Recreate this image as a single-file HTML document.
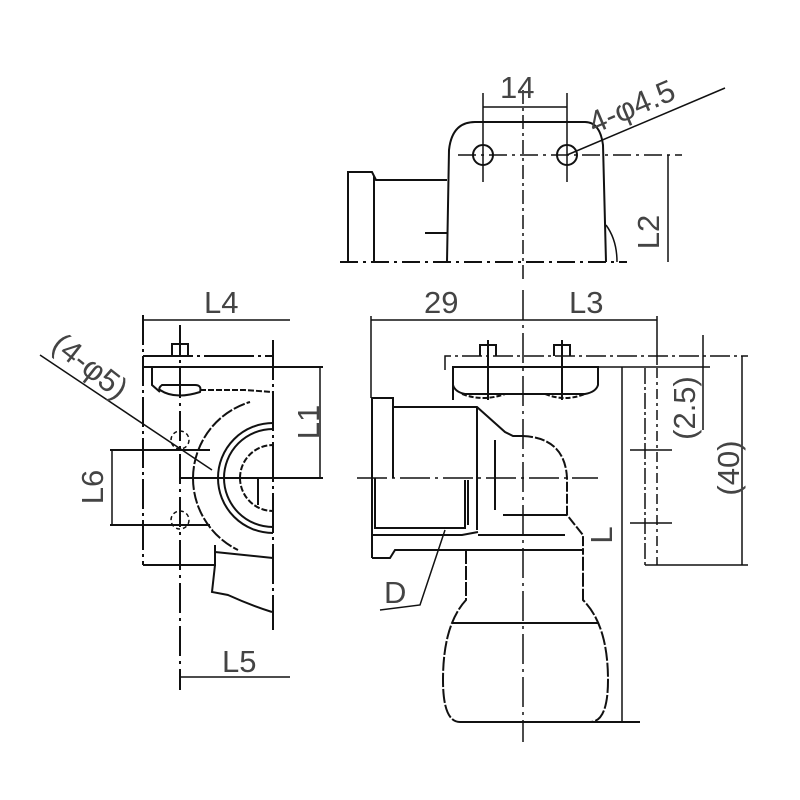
<!DOCTYPE html>
<html><head><meta charset="utf-8"><style>
html,body{margin:0;padding:0;background:#fff}
svg{display:block}
text{font-family:"Liberation Sans",sans-serif;fill:#444}
</style></head><body>
<svg width="800" height="800" viewBox="0 0 800 800" xmlns="http://www.w3.org/2000/svg">
<g fill="none" stroke="#111" stroke-width="2">
<!-- TOP VIEW -->
<line x1="523" y1="90" x2="523" y2="282" stroke-dasharray="14,4,3,4" stroke-width="1.5"/>
<line x1="483" y1="93" x2="483" y2="182" stroke-width="1.5"/>
<line x1="567" y1="93" x2="567" y2="182" stroke-width="1.5"/>
<line x1="483" y1="107" x2="567" y2="107" stroke-width="1.5"/>
<path d="M447 262 L449 150 Q452 122 475 122 L585 122 Q600 122 603 145 L606 262"/>
<circle cx="483" cy="155" r="10"/>
<circle cx="567" cy="155" r="10"/>
<line x1="458" y1="155" x2="682" y2="155" stroke-dasharray="18,5,3,5" stroke-width="1.5"/>
<path d="M348 262 L348 172 L372 172 L376 180 L447 180"/>
<line x1="374" y1="176" x2="374" y2="262"/>
<line x1="425" y1="233" x2="447" y2="233"/>
<path d="M606 225 Q617 240 617 262" stroke-width="1.5"/>
<line x1="340" y1="262" x2="627" y2="262" stroke-dasharray="18,5,3,5"/>
<line x1="668" y1="155" x2="668" y2="262" stroke-width="1.5"/>
<line x1="567" y1="155" x2="725" y2="88" stroke-width="1.5"/>
<!-- LEFT VIEW -->
<line x1="143" y1="320" x2="290" y2="320" stroke-width="1.5"/>
<line x1="143" y1="315" x2="143" y2="565" stroke-dasharray="30,4,3,4"/>
<line x1="273" y1="340" x2="273" y2="630" stroke-dasharray="40,4,3,4"/>
<line x1="143" y1="356" x2="273" y2="356" stroke-dasharray="50,4,3,4"/>
<line x1="143" y1="367" x2="323" y2="367"/>
<path d="M172 356 L172 344 L188 344 L188 356"/>
<line x1="180" y1="325" x2="180" y2="690" stroke-dasharray="30,5,3,5"/>
<path d="M152 367 L152 385 L160 392"/>
<path d="M160 390 Q175 400 200 392 Q202 385 195 385 L162 385 Q158 388 160 390"/>
<path d="M200 390 L245 390 L272 392" stroke-dasharray="6,2"/>
<path d="M193 478 A80 80 0 0 1 250 402" stroke-dasharray="12,2"/>
<path d="M193 478 A80 80 0 0 0 238 550" stroke-dasharray="12,2"/>
<path d="M218 478 A55 55 0 0 1 273 423"/>
<path d="M218 478 A55 55 0 0 0 273 533"/>
<path d="M224 478 A49 49 0 0 1 273 429"/>
<path d="M224 478 A49 49 0 0 0 273 527"/>
<path d="M240 478 A33 33 0 0 1 273 445" stroke-dasharray="6,2"/>
<path d="M240 478 A33 33 0 0 0 273 511" stroke-dasharray="6,2"/>
<line x1="258" y1="478" x2="258" y2="505"/>
<line x1="180" y1="478" x2="273" y2="478"/>
<line x1="110" y1="450" x2="210" y2="450"/>
<line x1="110" y1="525" x2="210" y2="525"/>
<line x1="112" y1="450" x2="112" y2="525" stroke-width="1.5"/>
<circle cx="180" cy="440" r="9" stroke-dasharray="4,3" stroke-width="1.5"/>
<circle cx="180" cy="520" r="9" stroke-dasharray="4,3" stroke-width="1.5"/>
<line x1="320" y1="367" x2="320" y2="478" stroke-width="1.5"/>
<line x1="273" y1="478" x2="323" y2="478"/>
<line x1="40" y1="355" x2="212" y2="470" stroke-width="1.5"/>
<path d="M143 565 L215 565 L215 545"/>
<line x1="215" y1="552" x2="273" y2="558"/>
<path d="M215 565 L212 592 L228 595 Q250 605 272 612"/>
<line x1="180" y1="677" x2="290" y2="677" stroke-width="1.5"/>
<!-- FRONT VIEW -->
<line x1="523" y1="290" x2="523" y2="742" stroke-dasharray="30,5,3,5" stroke-width="1.5"/>
<line x1="371" y1="320" x2="657" y2="320" stroke-width="1.5"/>
<line x1="371" y1="316" x2="371" y2="398" stroke-width="1.5"/>
<line x1="657" y1="316" x2="657" y2="365" stroke-width="1.5"/>
<path d="M445 370 L445 356 L748 356" stroke-dasharray="20,4,3,4" stroke-width="1.5"/>
<path d="M480 356 L480 345 L496 345 L496 356"/>
<path d="M554 356 L554 345 L570 345 L570 356"/>
<line x1="488" y1="340" x2="488" y2="400"/>
<line x1="562" y1="340" x2="562" y2="400"/>
<path d="M453 400 L453 367 L598 367 L598 385 Q596 392 585 394 L465 394 Q455 392 453 385"/>
<path d="M462 394 Q483 402 505 394 M545 394 Q565 402 585 394" stroke-dasharray="5,2"/>
<path d="M372 558 L372 398 L393 398 L393 407 L477 407 L505 432 L513 436 L523 436"/>
<line x1="393" y1="407" x2="393" y2="478"/>
<line x1="477" y1="407" x2="477" y2="530"/>
<path d="M523 436 Q565 438 567 478 L567 515 L583 535 L583 550" stroke-dasharray="10,2"/>
<line x1="357" y1="478" x2="598" y2="478" stroke-dasharray="30,5,3,5" stroke-width="1.5"/>
<line x1="495" y1="440" x2="495" y2="510"/>
<line x1="503" y1="515" x2="567" y2="515"/>
<path d="M375 478 L375 528 L465 528 L465 480"/>
<line x1="468" y1="480" x2="468" y2="525"/>
<path d="M372 535 L462 535 L478 532 M372 558 L390 558 L395 550 L468 550 L583 550"/>
<line x1="478" y1="535" x2="565" y2="535"/>
<path d="M466 550 L466 600 Q443 625 443 680 Q443 722 460 722 L590 722 Q608 722 608 680 Q608 625 583 600 L583 550" stroke-dasharray="14,2"/>
<line x1="452" y1="623" x2="598" y2="623"/>
<line x1="460" y1="722" x2="640" y2="722"/>
<line x1="622" y1="367" x2="622" y2="722" stroke-width="1.5"/>
<line x1="598" y1="367" x2="710" y2="367" stroke-width="1.5"/>
<line x1="645" y1="368" x2="645" y2="565" stroke-dasharray="16,3,3,3" stroke-width="1.5"/>
<line x1="657" y1="368" x2="657" y2="565" stroke-dasharray="10,4,3,4" stroke-width="1.5"/>
<line x1="630" y1="450" x2="672" y2="450" stroke-width="1.5"/>
<line x1="630" y1="523" x2="672" y2="523" stroke-width="1.5"/>
<line x1="645" y1="565" x2="748" y2="565" stroke-width="1.5"/>
<line x1="742" y1="356" x2="742" y2="565" stroke-width="1.5"/>
<line x1="703" y1="335" x2="703" y2="430" stroke-width="1.5"/>
<path d="M445 530 L420 605 L380 610" stroke-width="1.5"/>
</g>
<g font-size="31">
<text x="500" y="98">14</text>
<text x="204" y="313">L4</text>
<text x="424" y="313">29</text>
<text x="569" y="313">L3</text>
<text x="222" y="672">L5</text>
<text x="384" y="603">D</text>
<text transform="translate(659,232) rotate(-90)" text-anchor="middle">L2</text>
<text transform="translate(319,422) rotate(-90)" text-anchor="middle">L1</text>
<text transform="translate(103,487) rotate(-90)" text-anchor="middle">L6</text>
<text transform="translate(612,535) rotate(-90)" text-anchor="middle">L</text>
<text transform="translate(695,408) rotate(-90)" text-anchor="middle">(2.5)</text>
<text transform="translate(739,468) rotate(-90)" text-anchor="middle">(40)</text>
<text transform="translate(594,134) rotate(-23)">4-φ4.5</text>
<text transform="translate(50,348) rotate(38)">(4-φ5)</text>
</g>
</svg>
</body></html>
